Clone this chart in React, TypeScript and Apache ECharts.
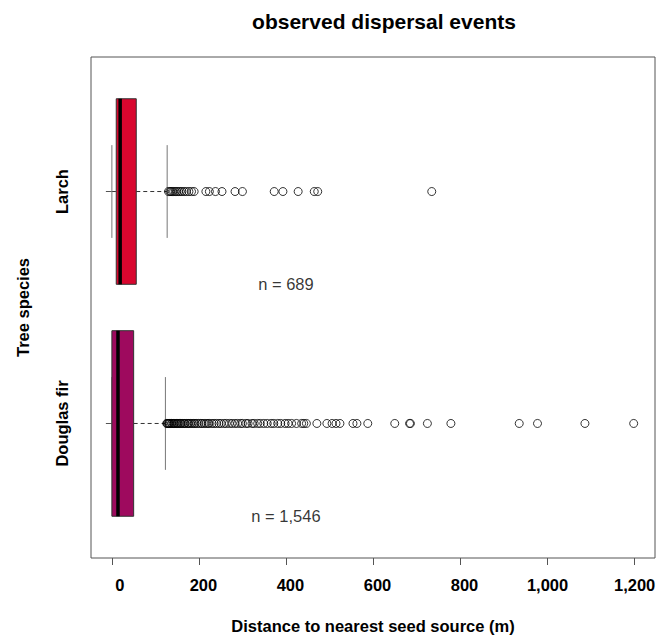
import React, { useEffect, useRef } from "react";
import * as echarts from "echarts";

const categories = ["Douglas fir", "Larch"];
const categoryPos = [1, 2];
// [lower whisker, Q1, median, Q3, upper whisker]
const douglasBox = [0, 0, 14, 50, 123];
const larchBox = [0, 10, 19, 56, 127];
const sampleSizes = ["n = 1,546", "n = 689"];
const sampleLabelX = 400;

const douglasOutliers = [
  126, 127, 129, 131, 132, 134, 137, 138, 141, 143, 145, 148, 150, 152, 155, 158,
  159, 163, 166, 168, 172, 175, 177, 181, 184, 188, 191, 195, 199, 204, 207, 212,
  216, 221, 224, 230, 235, 240, 246, 251, 258, 263, 270, 276, 283, 289, 296, 300,
  308, 313, 322, 327, 335, 341, 349, 357, 366, 372, 381, 388, 398, 405, 413, 424,
  436, 441, 447, 471, 494, 506, 515, 524, 554, 563, 588, 650, 684, 686, 725, 779,
  936, 978, 1087, 1199,
];
const larchOutliers = [
  130, 133, 136, 139, 142, 146, 149, 153, 157, 161, 166, 171, 177, 183, 189, 216,
  224, 238, 253, 283, 300, 373, 393, 428, 465, 473, 735,
];

const xTickValues = [0, 200, 400, 600, 800, 1000, 1200];
const xTickLabels = ["0", "200", "400", "600", "800", "1,000", "1,200"];

const FONT = "Liberation Sans, Arial, Helvetica, sans-serif";

export default function App() {
  const ref = useRef<HTMLDivElement>(null);
  useEffect(() => {
    if (!ref.current) return;
    const chart = echarts.init(ref.current, null, { renderer: "svg" });
    const boxColors = ["#9E0A5E", "#D8062E"];
    const boxData = [
      [categoryPos[0], ...douglasBox],
      [categoryPos[1], ...larchBox],
    ];
    const labelFont = { fontWeight: "bold", fontSize: 16.5, color: "#000", fontFamily: FONT };
    const option: any = {
      animation: false,
      backgroundColor: "#fff",
      title: {
        text: "observed dispersal events",
        left: 379,
        top: 6,
        textAlign: "center",
        textStyle: { fontSize: 21, fontWeight: "bold", fontFamily: FONT, color: "#000" },
      },
      grid: {
        left: 91,
        top: 57,
        width: 564,
        height: 506,
        show: true,
        borderColor: "#555",
        borderWidth: 1,
        backgroundColor: "transparent",
      },
      xAxis: {
        type: "value",
        min: -48,
        max: 1248,
        splitLine: { show: false },
        axisLine: { show: false },
        axisTick: { show: true, customValues: xTickValues, length: 7, lineStyle: { color: "#555" } },
        axisLabel: {
          customValues: xTickValues,
          formatter: (v: number) => {
            const s = xTickLabels[xTickValues.indexOf(v)];
            const k = s.length <= 1 ? "a" : s.length <= 3 ? "b" : "c";
            return "{" + k + "|" + s + "}";
          },
          rich: {
            a: { ...labelFont, padding: [0, 0, 0, 16] },
            b: { ...labelFont, padding: [0, 0, 0, 9] },
            c: { ...labelFont, padding: [0, 0, 0, 1] },
          },
          margin: 18,
          ...labelFont,
        },
        name: "Distance to nearest seed source (m)",
        nameLocation: "middle",
        nameGap: 59,
        nameTextStyle: labelFont,
      },
      yAxis: {
        type: "value",
        min: 0.42,
        max: 2.58,
        splitLine: { show: false },
        axisLine: { show: false },
        axisTick: { show: true, customValues: categoryPos, length: 6, lineStyle: { color: "#555" } },
        axisLabel: {
          customValues: categoryPos,
          formatter: (v: number) => categories[categoryPos.indexOf(v)],
          rotate: 90,
          margin: 21,
          ...labelFont,
        },
        name: "Tree species",
        nameLocation: "middle",
        nameGap: 60,
        nameTextStyle: labelFont,
      },
      series: [
        {
          type: "custom",
          silent: true,
          data: boxData,
          encode: { x: [1, 2, 3, 4, 5], y: 0 },
          renderItem: (params: any, api: any) => {
            const y = api.value(0);
            const lo = api.value(1);
            const q1 = api.value(2);
            const med = api.value(3);
            const q3 = api.value(4);
            const hi = api.value(5);
            const hb = 0.4;
            const hs = 0.2;
            const c = (x: number, yy: number) => api.coord([x, yy]);
            const [xLo, yc] = c(lo, y);
            const [xQ1, yTop] = c(q1, y + hb);
            const [xQ3, yBot] = c(q3, y - hb);
            const [xMed] = c(med, y);
            const [xHi] = c(hi, y);
            const [, ysTop] = c(lo, y + hs);
            const [, ysBot] = c(lo, y - hs);
            const color = boxColors[params.dataIndex];
            return {
              type: "group",
              children: [
                {
                  type: "line",
                  shape: { x1: xLo, y1: yc, x2: xQ1, y2: yc },
                  style: { stroke: "#333", lineWidth: 1, lineDash: [4, 3] },
                },
                {
                  type: "line",
                  shape: { x1: xQ3, y1: yc, x2: xHi, y2: yc },
                  style: { stroke: "#333", lineWidth: 1, lineDash: [4, 3] },
                },
                {
                  type: "line",
                  shape: { x1: xLo, y1: ysTop, x2: xLo, y2: ysBot },
                  style: { stroke: "#777", lineWidth: 1 },
                },
                {
                  type: "line",
                  shape: { x1: xHi, y1: ysTop, x2: xHi, y2: ysBot },
                  style: { stroke: "#777", lineWidth: 1 },
                },
                {
                  type: "rect",
                  shape: { x: xQ1, y: yTop, width: xQ3 - xQ1, height: yBot - yTop },
                  style: { fill: color, stroke: "#333", lineWidth: 1 },
                },
                {
                  type: "line",
                  shape: { x1: xMed, y1: yTop, x2: xMed, y2: yBot },
                  style: { stroke: "#000", lineWidth: 3.5 },
                },
              ],
            };
          },
        },
        {
          type: "scatter",
          silent: true,
          symbol: "circle",
          symbolSize: 8,
          itemStyle: { color: "rgba(0,0,0,0)", borderColor: "#000", borderWidth: 1 },
          data: douglasOutliers.map((v) => [v, categoryPos[0]]),
        },
        {
          type: "scatter",
          silent: true,
          symbol: "circle",
          symbolSize: 8,
          itemStyle: { color: "rgba(0,0,0,0)", borderColor: "#000", borderWidth: 1 },
          data: larchOutliers.map((v) => [v, categoryPos[1]]),
        },
        {
          type: "scatter",
          silent: true,
          symbolSize: 0,
          itemStyle: { color: "rgba(0,0,0,0)" },
          label: {
            show: true,
            position: "inside",
            formatter: (p: any) => p.name,
            color: "#000",
            fontSize: 16.5,
            fontFamily: FONT,
          },
          data: sampleSizes.map((s, i) => ({ name: s, value: [sampleLabelX, categoryPos[i] - 0.4] })),
        },
      ],
    };
    chart.setOption(option);
    return () => chart.dispose();
  }, []);
  return (
    <div
      ref={ref}
      style={{ position: "fixed", left: 0, top: 0, width: 672, height: 639, background: "#fff" }}
    />
  );
}
